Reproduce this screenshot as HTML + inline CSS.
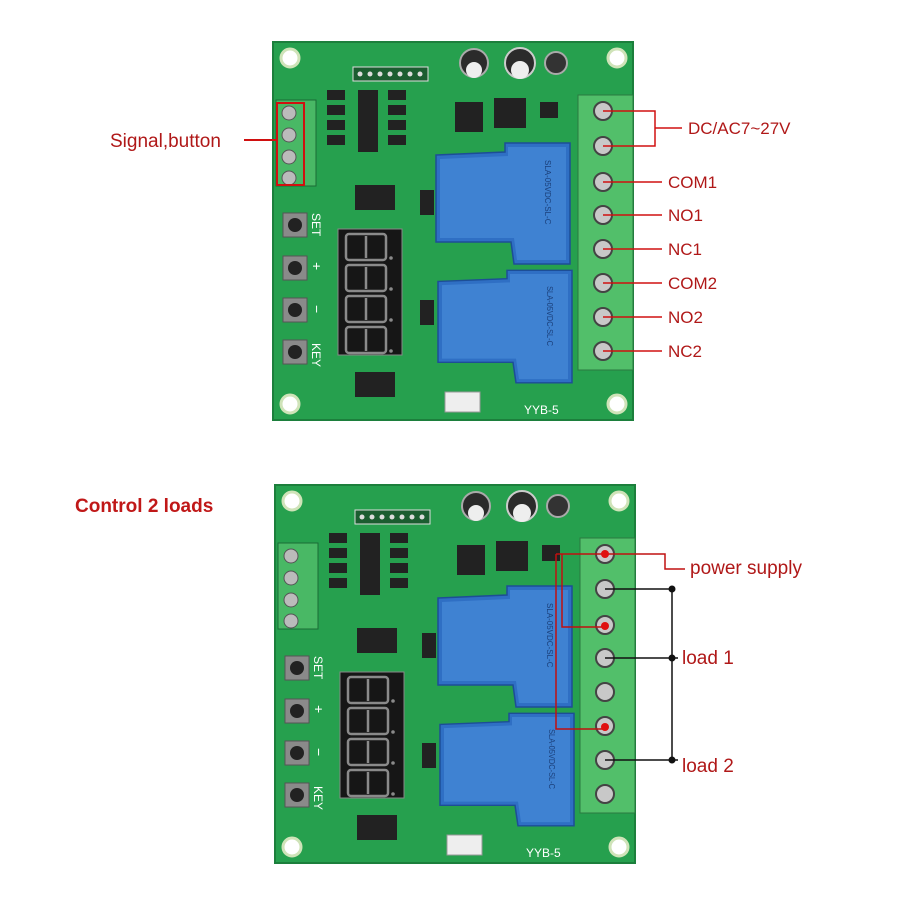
<!DOCTYPE html>
<html><head><meta charset="utf-8"><style>
html,body{margin:0;padding:0;background:#fff;}
svg{display:block}
text{font-family:"Liberation Sans",sans-serif;}
</style></head><body>
<svg width="900" height="900" viewBox="0 0 900 900" xmlns="http://www.w3.org/2000/svg">
<defs>
<g id="relay1">
  <path d="M436,155 L505,152 L505,143 L570,143 L570,264 L514,264 L511,242 L436,242 Z" fill="#2f6fc4" stroke="#1d4e96" stroke-width="1.5"/>
  <path d="M440,159 L508,156 L508,147 L566,147 L566,260 L517,260 L514,238 L440,238 Z" fill="#3f82d2"/>
  <text x="0" y="0" font-size="8" fill="#1a3f7a" transform="translate(545,160) rotate(90)">SLA-05VDC-SL-C</text>
</g>
<g id="digit">
  <rect x="0" y="0" width="40" height="26" rx="3" fill="none" stroke="#8a8a8a" stroke-width="2.5"/>
  <line x1="20" y1="2" x2="20" y2="24" stroke="#8a8a8a" stroke-width="2.5"/>
  <circle cx="45" cy="24" r="1.8" fill="#8a8a8a"/>
</g>
<g id="board">
  <rect x="273" y="42" width="360" height="378" fill="#26a04e"/>
  <rect x="273" y="42" width="360" height="378" fill="none" stroke="#1c7f3c" stroke-width="2"/>
  <g fill="#fff" stroke="#cfe3b8" stroke-width="3">
  <circle cx="290" cy="58" r="9"/><circle cx="617" cy="58" r="9"/>
  <circle cx="290" cy="404" r="9"/><circle cx="617" cy="404" r="9"/>
  </g>
  <rect x="353" y="67" width="75" height="14" fill="#1b5d30" stroke="#ddd"/>
  <g fill="#ddd"><circle cx="360" cy="74" r="2.5"/><circle cx="370" cy="74" r="2.5"/><circle cx="380" cy="74" r="2.5"/><circle cx="390" cy="74" r="2.5"/><circle cx="400" cy="74" r="2.5"/><circle cx="410" cy="74" r="2.5"/><circle cx="420" cy="74" r="2.5"/></g>
  <rect x="276" y="100" width="40" height="86" fill="#49b865" stroke="#1a6b35"/>
  <g fill="#bbb" stroke="#555"><circle cx="289" cy="113" r="7"/><circle cx="289" cy="135" r="7"/><circle cx="289" cy="157" r="7"/><circle cx="289" cy="178" r="7"/></g>
  <g fill="#222">
  <rect x="358" y="90" width="20" height="62"/>
  <rect x="327" y="90" width="18" height="10"/><rect x="327" y="105" width="18" height="10"/><rect x="327" y="120" width="18" height="10"/><rect x="327" y="135" width="18" height="10"/>
  <rect x="388" y="90" width="18" height="10"/><rect x="388" y="105" width="18" height="10"/><rect x="388" y="120" width="18" height="10"/><rect x="388" y="135" width="18" height="10"/>
  <rect x="355" y="185" width="40" height="25"/>
  <rect x="355" y="372" width="40" height="25"/>
  <rect x="420" y="190" width="14" height="25"/>
  <rect x="420" y="300" width="14" height="25"/>
  <rect x="455" y="102" width="28" height="30"/>
  <rect x="494" y="98" width="32" height="30"/>
  <rect x="540" y="102" width="18" height="16"/>
  </g>
  <circle cx="474" cy="63" r="14" fill="#2b2b2b" stroke="#aaa" stroke-width="2"/>
  <circle cx="474" cy="70" r="8" fill="#eee"/>
  <circle cx="520" cy="63" r="15" fill="#2b2b2b" stroke="#ccc" stroke-width="2"/>
  <circle cx="520" cy="70" r="9" fill="#eee"/>
  <circle cx="556" cy="63" r="11" fill="#333" stroke="#aaa" stroke-width="2"/>
  <!-- display -->
  <rect x="338" y="229" width="64" height="126" fill="#161616" stroke="#888"/>
  <use href="#digit" transform="translate(346,234)"/>
  <use href="#digit" transform="translate(346,265)"/>
  <use href="#digit" transform="translate(346,296)"/>
  <use href="#digit" transform="translate(346,327)"/>
  <g fill="#8a8a8a" stroke="#555"><rect x="283" y="213" width="24" height="24"/><rect x="283" y="256" width="24" height="24"/><rect x="283" y="298" width="24" height="24"/><rect x="283" y="340" width="24" height="24"/></g>
  <g fill="#222"><circle cx="295" cy="225" r="7"/><circle cx="295" cy="268" r="7"/><circle cx="295" cy="310" r="7"/><circle cx="295" cy="352" r="7"/></g>
  <text x="312" y="213" font-size="12" fill="#fff" transform="rotate(90 312 213)">SET</text>
  <text x="312" y="262" font-size="14" fill="#fff" transform="rotate(90 312 262)">+</text>
  <text x="312" y="305" font-size="14" fill="#fff" transform="rotate(90 312 305)">−</text>
  <text x="312" y="343" font-size="12" fill="#fff" transform="rotate(90 312 343)">KEY</text>
  <use href="#relay1"/>
  <use href="#relay1" transform="translate(2,128) scale(1,0.93) translate(0,10)"/>
  <rect x="578" y="95" width="55" height="275" fill="#52bf6a" stroke="#2a7a40"/>
  <g fill="#c8c8c8" stroke="#444" stroke-width="2">
  <circle cx="603" cy="111" r="9"/><circle cx="603" cy="146" r="9"/><circle cx="603" cy="182" r="9"/><circle cx="603" cy="215" r="9"/>
  <circle cx="603" cy="249" r="9"/><circle cx="603" cy="283" r="9"/><circle cx="603" cy="317" r="9"/><circle cx="603" cy="351" r="9"/>
  </g>
  <rect x="445" y="392" width="35" height="20" fill="#eee" stroke="#999"/>
  <text x="524" y="414" font-size="12" fill="#fff">YYB-5</text>
</g>
</defs>
<use href="#board"/>
<use href="#board" transform="translate(2,443)"/>
<rect x="277" y="103" width="27" height="82" fill="none" stroke="#d01010" stroke-width="2"/>
<line x1="244" y1="140" x2="277" y2="140" stroke="#d01010" stroke-width="2"/>
<text x="110" y="147" font-size="19" fill="#b01818">Signal,button</text>
<g stroke="#d01010" stroke-width="1.5">
<polyline points="603,111 655,111 655,146 603,146" fill="none"/>
<line x1="655" y1="128" x2="682" y2="128"/>
<line x1="603" y1="182" x2="662" y2="182"/>
<line x1="603" y1="215" x2="662" y2="215"/>
<line x1="603" y1="249" x2="662" y2="249"/>
<line x1="603" y1="283" x2="662" y2="283"/>
<line x1="603" y1="317" x2="662" y2="317"/>
<line x1="603" y1="351" x2="662" y2="351"/>
</g>
<g font-size="17" fill="#b01818">
<text x="688" y="134">DC/AC7~27V</text>
<text x="668" y="188">COM1</text>
<text x="668" y="221">NO1</text>
<text x="668" y="255">NC1</text>
<text x="668" y="289">COM2</text>
<text x="668" y="323">NO2</text>
<text x="668" y="357">NC2</text>
</g>
<text x="75" y="512" font-size="19" font-weight="bold" fill="#c01818">Control 2 loads</text>
<g stroke="#111" stroke-width="1.5">
<line x1="672" y1="589" x2="672" y2="762"/>
<line x1="605" y1="589" x2="672" y2="589"/>
<line x1="605" y1="658" x2="678" y2="658"/>
<line x1="605" y1="760" x2="678" y2="760"/>
</g>
<g fill="#111"><circle cx="672" cy="589" r="3.5"/><circle cx="672" cy="658" r="3.5"/><circle cx="672" cy="760" r="3.5"/></g>
<g stroke="#c01010" stroke-width="1.5" fill="none">
<polyline points="556,554 665,554 665,569 685,569"/>
<polyline points="556,554 556,729 605,729"/>
<polyline points="562,554 562,627 605,627"/>
</g>
<g fill="#e01010"><circle cx="605" cy="554" r="4"/><circle cx="605" cy="626" r="4"/><circle cx="605" cy="727" r="4"/></g>
<g font-size="19" fill="#b01818">
<text x="690" y="574">power supply</text>
<text x="682" y="664">load 1</text>
<text x="682" y="772">load 2</text>
</g>
</svg>
</body></html>
